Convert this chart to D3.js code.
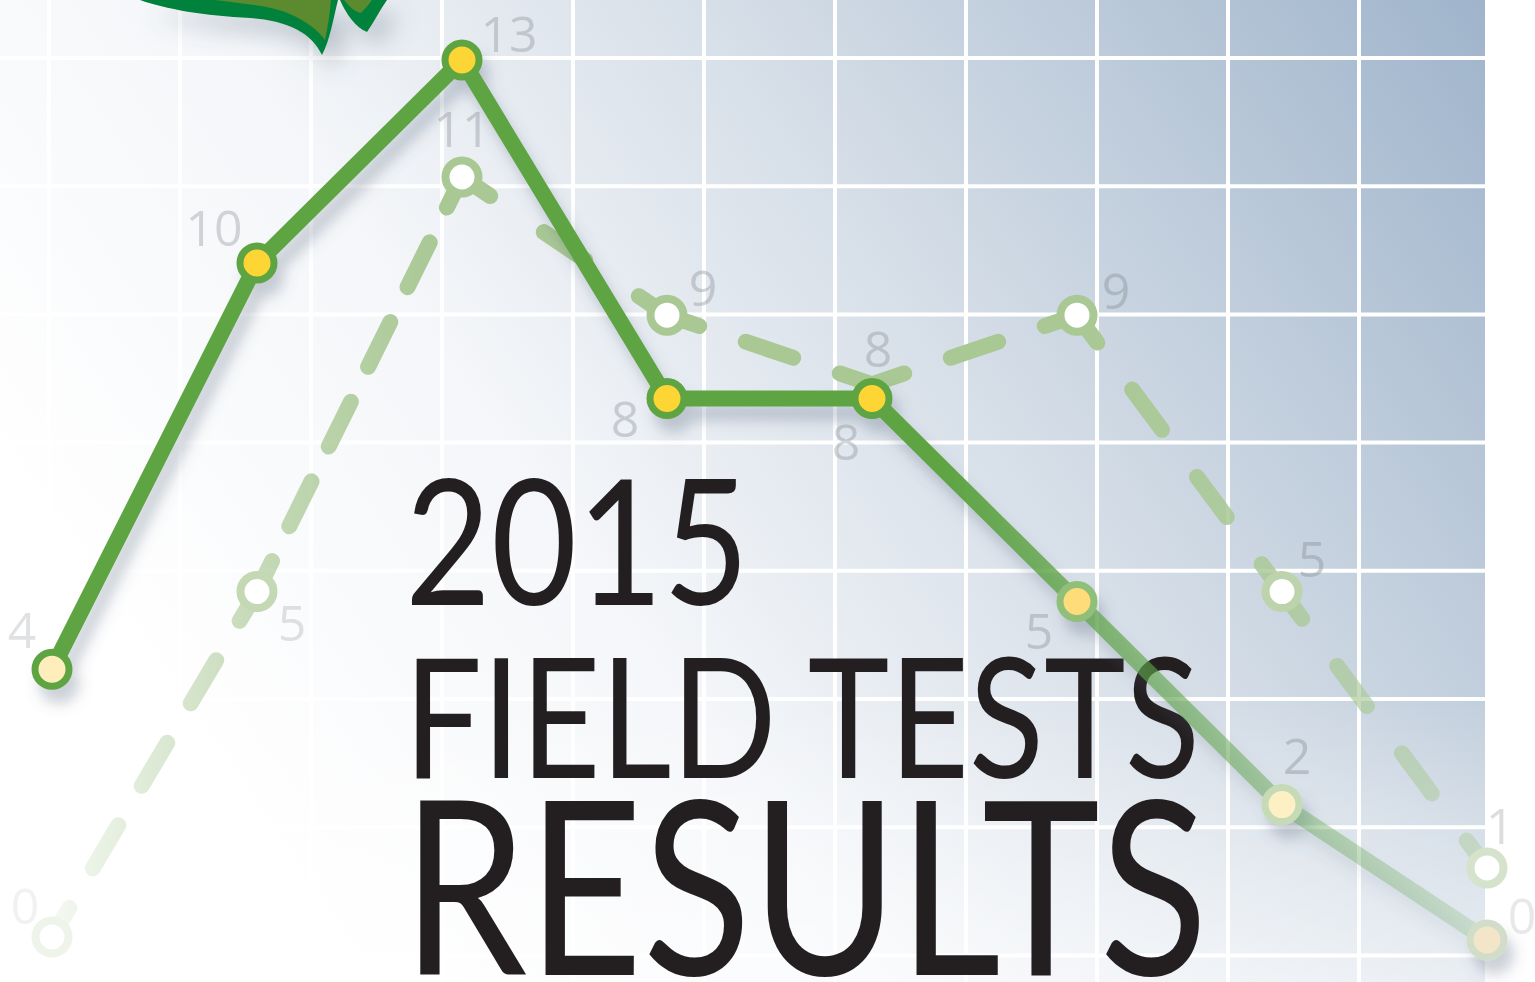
<!DOCTYPE html>
<html lang="en">
<head>
<meta charset="UTF-8">
<title>2015 Field Tests Results</title>
<script src="https://cdn.jsdelivr.net/npm/d3@7"></script>
<style>
  html, body { margin: 0; padding: 0; background: #fff; overflow: hidden; }
  svg { display: block; }
  .label { font-family: "Open Sans", Lato, sans-serif; font-weight: 400; font-size: 50px; fill: #8f949c; }
  .title { font-family: Lato, "Noto Sans", sans-serif; font-weight: 400; fill: #231f20; }
</style>
</head>
<body>
<div id="chart"></div>
<script>
  // data
  const tests = ["T1", "T2", "T3", "T4", "T5", "T6", "T7", "T8"];
  const results2015 = [4, 10, 13, 8, 8, 5, 2, 0];
  const resultsPrev = [0, 5, 11, 9, 8, 9, 5, 1];
  const titleLines = ["2015", "FIELD TESTS", "RESULTS"];

  // styling per point (fade toward the ends)
  const solidRing = ["#5ea443", "#5ea443", "#5ea443", "#5ea443", "#5ea443", "#8fbf78", "#c6dab6", "#d2ddc9"];
  const solidFill = ["#fdeebb", "#fdd535", "#fdd535", "#fdd535", "#fdd535", "#fedc7a", "#fdf0c4", "#f3e6c8"];
  // the 5th previous-year point sits under the 2015 marker, so it has no ring of its own
  const prevRing = ["#eef4ea", "#c3d8b3", "#a9c894", "#a9c894", "none", "#a9c894", "#bcd3ac", "#d5e2cc"];
  const solidLabelAlpha = [0.28, 0.38, 0.4, 0.4, 0.4, 0.42, 0.45, 0.22];
  const prevLabelAlpha = [0.13, 0.28, 0.4, 0.4, 0.4, 0.45, 0.45, 0.32];
  const solidLabelOff = [[-30, -40], [-43, -36], [47, -27], [-42, 20], [-26, 43], [-38, 28], [15, -50], [35, -25]];
  const prevLabelOff = [[-27, -32], [35, 30], [0, -49], [36, -28], [6, -36], [39, -25], [30, -34], [13, -43]];

  const width = 1535, height = 982, plotRight = 1485;

  const svg = d3.select("#chart").append("svg")
    .attr("width", width).attr("height", height);
  const defs = svg.append("defs");

  // background gradient
  const bg = defs.append("linearGradient").attr("id", "bg")
    .attr("gradientUnits", "userSpaceOnUse")
    .attr("x1", 250).attr("y1", 850).attr("x2", plotRight).attr("y2", 0);
  [[0, "#ffffff"], [0.3, "#f4f6f9"], [0.6, "#d3dce6"], [1, "#9fb4cb"]].forEach(s =>
    bg.append("stop").attr("offset", s[0]).attr("stop-color", s[1]));

  const haze = defs.append("linearGradient").attr("id", "haze")
    .attr("x1", 0).attr("y1", 0).attr("x2", 0).attr("y2", 1);
  haze.append("stop").attr("offset", 0).attr("stop-color", "#fff").attr("stop-opacity", 0);
  haze.append("stop").attr("offset", 1).attr("stop-color", "#fff").attr("stop-opacity", 0.55);

  const shadow = defs.append("filter").attr("id", "shadow")
    .attr("x", "-10%").attr("y", "-10%").attr("width", "130%").attr("height", "130%");
  shadow.append("feDropShadow").attr("dx", 7).attr("dy", 14).attr("stdDeviation", 7)
    .attr("flood-color", "#56657a").attr("flood-opacity", 0.3);

  const leafShadow = defs.append("filter").attr("id", "leafShadow")
    .attr("x", "-30%").attr("y", "-30%").attr("width", "180%").attr("height", "250%");
  leafShadow.append("feDropShadow").attr("dx", 12).attr("dy", 14).attr("stdDeviation", 12)
    .attr("flood-color", "#56657a").attr("flood-opacity", 0.35);

  // scales
  const x = d3.scalePoint().domain(tests).range([52, 1487]);
  const y = d3.scaleLinear().domain([0, 13]).range([940, 60]);
  const yPrev = d3.scaleLinear().domain([0, 11]).range([937, 177]);

  // line fades along x
  function fadeGradient(id, color, stops) {
    const g = defs.append("linearGradient").attr("id", id)
      .attr("gradientUnits", "userSpaceOnUse")
      .attr("x1", x(tests[0])).attr("y1", 0).attr("x2", x(tests[tests.length - 1])).attr("y2", 0);
    stops.forEach(s => g.append("stop").attr("offset", s[0])
      .attr("stop-color", color).attr("stop-opacity", s[1]));
  }
  fadeGradient("solidFade", "#5ea443", [[0, 1], [0.62, 1], [0.72, 0.72], [0.86, 0.42], [1, 0.18]]);
  fadeGradient("prevFade", "#a9c894", [[0, 0.12], [0.14, 0.65], [0.27, 1], [0.72, 1], [0.86, 0.8], [1, 0.4]]);

  // background + grid
  svg.append("rect").attr("width", plotRight).attr("height", height).attr("fill", "url(#bg)");
  svg.append("rect").attr("y", 700).attr("width", plotRight).attr("height", height - 700).attr("fill", "url(#haze)");

  const grid = svg.append("g").attr("stroke", "#fff").attr("stroke-width", 4);
  grid.selectAll("line.v").data(d3.range(49, plotRight, 131)).join("line")
    .attr("class", "v").attr("x1", d => d).attr("x2", d => d).attr("y1", 0).attr("y2", height);
  grid.selectAll("line.h").data(d3.range(58, height, 128.2)).join("line")
    .attr("class", "h").attr("x1", 0).attr("x2", plotRight).attr("y1", d => d).attr("y2", d => d);

  // leaf decoration at top
  const leaf = svg.append("g").attr("filter", "url(#leafShadow)");
  leaf.append("path").attr("fill", "#00823e")
    .attr("d", "M140,0 C165,9 205,16 250,18 C290,21 312,34 322,55 C330,40 333,20 338,0 Z");
  leaf.append("path").attr("fill", "#5c8a2d")
    .attr("d", "M215,0 C245,4 270,6 285,12 C305,20 318,30 325,40 C328,26 330,12 331,0 Z");
  leaf.append("path").attr("fill", "#00823e")
    .attr("d", "M340,0 C346,14 356,28 367,32 C374,22 380,10 387,0 Z");
  leaf.append("path").attr("fill", "#5c8a2d")
    .attr("d", "M344,0 C350,8 356,12 361,13 C365,9 369,4 372,0 Z");

  // title
  const title = svg.append("g").attr("class", "title");
  title.append("text").attr("x", 405).attr("y", 605).attr("font-size", 174)
    .attr("textLength", 344).attr("lengthAdjust", "spacingAndGlyphs").text(titleLines[0]);
  title.append("text").attr("x", 404).attr("y", 778).attr("font-size", 167)
    .attr("textLength", 796).attr("lengthAdjust", "spacingAndGlyphs").text(titleLines[1]);
  title.append("text").attr("x", 402).attr("y", 975).attr("font-size", 243)
    .attr("textLength", 806).attr("lengthAdjust", "spacingAndGlyphs").text(titleLines[2]);

  // previous-year dashed series
  const prevPts = tests.map((t, i) => [x(t), yPrev(resultsPrev[i])]);
  function dashPattern(L) {
    const stub = 34, dash = 50, gap = 44;
    const n = Math.max(0, Math.round((L - 2 * stub - gap) / (dash + gap)));
    const g = (L - 2 * stub - n * dash) / (n + 1);
    const arr = [stub];
    for (let k = 0; k < n; k++) arr.push(g, dash);
    arr.push(g, stub, 1000);
    return arr.join(" ");
  }
  const prev = svg.append("g");
  prev.selectAll("path.seg").data(d3.pairs(prevPts)).join("path")
    .attr("class", "seg")
    .attr("d", d => d3.line()(d))
    .attr("fill", "none")
    .attr("stroke", "url(#prevFade)")
    .attr("stroke-width", 16)
    .attr("stroke-linecap", "round")
    .attr("stroke-dasharray", d => dashPattern(Math.hypot(d[1][0] - d[0][0], d[1][1] - d[0][1])));
  prev.selectAll("circle").data(prevPts).join("circle")
    .attr("cx", d => d[0]).attr("cy", d => d[1]).attr("r", 16.5)
    .attr("fill", (d, i) => prevRing[i] === "none" ? "none" : "#fff")
    .attr("stroke", (d, i) => prevRing[i]).attr("stroke-width", 8);
  prev.selectAll("text").data(resultsPrev).join("text")
    .attr("class", "label")
    .attr("x", (d, i) => x(tests[i]) + prevLabelOff[i][0])
    .attr("y", (d, i) => yPrev(d) + prevLabelOff[i][1])
    .attr("text-anchor", "middle").attr("dominant-baseline", "central")
    .attr("fill-opacity", (d, i) => prevLabelAlpha[i])
    .text(d => d);

  // 2015 solid series
  const solidPts = tests.map((t, i) => [x(t), y(results2015[i])]);
  const solid = svg.append("g").attr("filter", "url(#shadow)");
  solid.append("path").attr("d", d3.line()(solidPts))
    .attr("fill", "none").attr("stroke", "url(#solidFade)")
    .attr("stroke-width", 16).attr("stroke-linejoin", "round");
  solid.selectAll("circle").data(solidPts).join("circle")
    .attr("cx", d => d[0]).attr("cy", d => d[1]).attr("r", 17)
    .attr("fill", (d, i) => solidFill[i]).attr("stroke", (d, i) => solidRing[i]).attr("stroke-width", 7);
  svg.append("g").selectAll("text").data(results2015).join("text")
    .attr("class", "label")
    .attr("x", (d, i) => x(tests[i]) + solidLabelOff[i][0])
    .attr("y", (d, i) => y(d) + solidLabelOff[i][1])
    .attr("text-anchor", "middle").attr("dominant-baseline", "central")
    .attr("fill-opacity", (d, i) => solidLabelAlpha[i])
    .text(d => d);
</script>
</body>
</html>
